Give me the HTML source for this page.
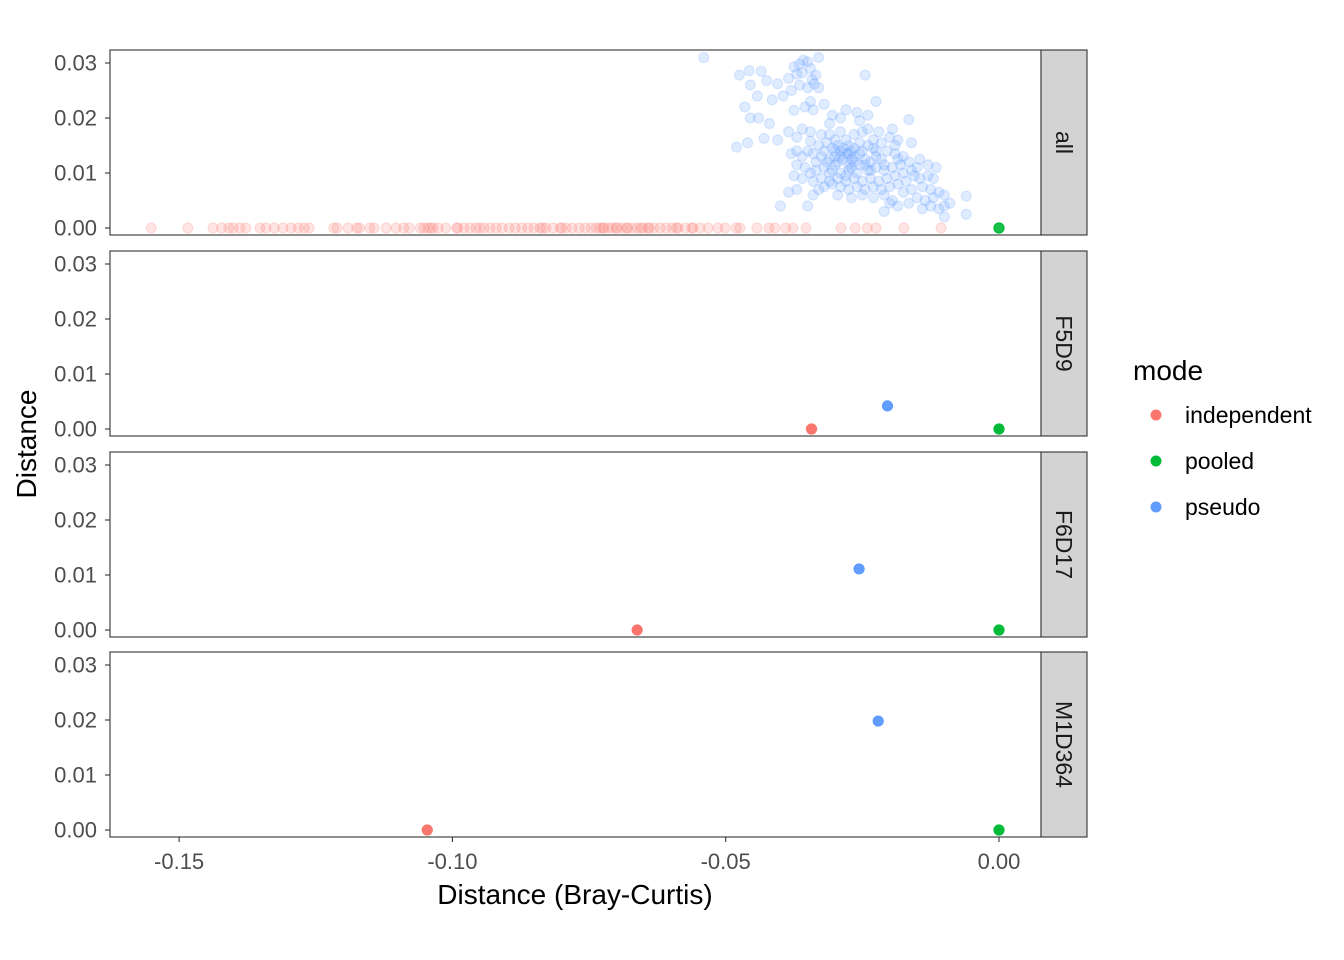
<!DOCTYPE html>
<html><head><meta charset="utf-8"><style>
html,body{margin:0;padding:0;background:#fff;}
svg{display:block;font-family:"Liberation Sans",Arial,sans-serif;}
</style></head><body>
<svg id="chart" width="1344" height="960"></svg>
<script>
const facets = ["all","F5D9","F6D17","M1D364"];
const modes = ["independent","pooled","pseudo"];
const xTicks = [-0.15,-0.10,-0.05,0.00];
const xTickLabels = ["-0.15","-0.10","-0.05","0.00"];
const yTicks = [0,0.01,0.02,0.03];
const yTickLabels = ["0.00","0.01","0.02","0.03"];
const allIndependentX = [-0.1551,-0.1484,-0.1438,-0.1422,-0.1409,-0.1401,-0.1389,-0.1378,-0.1352,-0.1341,-0.1326,-0.1310,-0.1295,-0.1282,-0.1271,-0.1262,-0.1217,-0.1211,-0.1191,-0.1175,-0.1151,-0.1143,-0.1121,-0.1103,-0.1089,-0.1079,-0.1059,-0.1052,-0.1045,-0.1035,-0.1026,-0.1012,-0.0992,-0.0979,-0.0968,-0.0957,-0.0950,-0.0942,-0.0931,-0.0920,-0.0909,-0.0896,-0.0885,-0.0873,-0.0862,-0.0851,-0.0840,-0.0829,-0.0816,-0.0803,-0.0792,-0.0781,-0.0768,-0.0757,-0.0746,-0.0737,-0.0730,-0.0723,-0.0715,-0.0708,-0.0699,-0.0690,-0.0681,-0.0671,-0.0662,-0.0651,-0.0642,-0.0631,-0.0620,-0.0609,-0.0598,-0.0587,-0.0574,-0.0562,-0.0547,-0.0532,-0.0514,-0.0501,-0.0481,-0.0474,-0.0443,-0.0421,-0.0410,-0.0390,-0.0377,-0.0353,-0.0289,-0.0263,-0.0241,-0.0225,-0.0174,-0.0106,-0.0725,-0.0700,-0.0680,-0.0655,-0.0640,-0.0590,-0.0560,-0.0990,-0.1040,-0.1170,-0.0835,-0.0800];
const allPooledX = [0,0,0,0,0,0,0,0,0,0];
const allPseudoX = [-0.054,-0.0475,-0.0457,-0.0435,-0.0425,-0.0405,-0.0385,-0.0375,-0.0365,-0.0358,-0.035,-0.033,-0.0345,-0.036,-0.037,-0.0342,-0.0338,-0.035,-0.0365,-0.038,-0.0395,-0.0455,-0.0442,-0.0465,-0.0415,-0.0335,-0.033,-0.0245,-0.044,-0.0455,-0.042,-0.0375,-0.0345,-0.0355,-0.034,-0.032,-0.0305,-0.031,-0.029,-0.028,-0.026,-0.0255,-0.024,-0.0225,-0.0165,-0.0385,-0.037,-0.036,-0.0345,-0.0325,-0.031,-0.029,-0.028,-0.0265,-0.025,-0.024,-0.023,-0.022,-0.02,-0.0195,-0.043,-0.046,-0.048,-0.0405,-0.03,-0.0295,-0.0275,-0.027,-0.0255,-0.0345,-0.033,-0.0315,-0.0305,-0.029,-0.028,-0.0265,-0.038,-0.037,-0.036,-0.035,-0.034,-0.0335,-0.0325,-0.032,-0.031,-0.03,-0.0295,-0.0285,-0.0275,-0.0265,-0.0255,-0.0245,-0.0235,-0.0225,-0.0215,-0.0205,-0.019,-0.0175,-0.0165,-0.018,-0.0195,-0.021,-0.0225,-0.024,-0.026,-0.0275,-0.029,-0.0305,-0.032,-0.0335,-0.0345,-0.0355,-0.037,-0.0375,-0.036,-0.034,-0.0325,-0.031,-0.0295,-0.028,-0.0265,-0.025,-0.0235,-0.022,-0.0205,-0.019,-0.0175,-0.016,-0.015,-0.0155,-0.0145,-0.013,-0.012,-0.017,-0.0185,-0.02,-0.0215,-0.023,-0.0245,-0.026,-0.0275,-0.029,-0.0305,-0.032,-0.033,-0.037,-0.0385,-0.034,-0.0295,-0.027,-0.025,-0.023,-0.021,-0.0195,-0.0175,-0.016,-0.014,-0.0125,-0.011,-0.01,-0.012,-0.0135,-0.015,-0.0165,-0.0185,-0.02,-0.0125,-0.011,-0.01,-0.009,-0.006,-0.006,-0.01,-0.04,-0.035,-0.021,-0.014,-0.025,-0.024,-0.023,-0.0215,-0.021,-0.0185,-0.0285,-0.0275,-0.0265,-0.0255,-0.0245,-0.0235,-0.027,-0.028,-0.03,-0.031,-0.0315,-0.029,-0.03,-0.027,-0.0225,-0.0185,-0.019,-0.016,-0.0145,-0.013,-0.0115];
const allPseudoY = [0.031,0.0278,0.0286,0.0285,0.0268,0.0262,0.0272,0.0293,0.0298,0.0305,0.0302,0.031,0.029,0.0282,0.028,0.027,0.0262,0.0255,0.026,0.025,0.024,0.026,0.024,0.022,0.0233,0.0278,0.0255,0.0278,0.02,0.02,0.019,0.0214,0.023,0.022,0.0215,0.0225,0.0205,0.019,0.02,0.0215,0.021,0.0195,0.0205,0.023,0.0197,0.0175,0.0165,0.018,0.0175,0.017,0.017,0.0175,0.016,0.017,0.0175,0.018,0.016,0.0175,0.0165,0.018,0.0163,0.0155,0.0147,0.016,0.016,0.015,0.015,0.014,0.0155,0.0158,0.015,0.0155,0.0145,0.014,0.0135,0.013,0.0135,0.014,0.013,0.014,0.0135,0.012,0.013,0.014,0.0125,0.013,0.012,0.0125,0.0115,0.012,0.0115,0.0125,0.012,0.013,0.0125,0.014,0.0135,0.013,0.012,0.0115,0.011,0.0105,0.011,0.0105,0.01,0.0105,0.01,0.0105,0.011,0.0105,0.01,0.011,0.0115,0.0095,0.009,0.0085,0.009,0.0085,0.009,0.0085,0.009,0.0085,0.009,0.0085,0.009,0.0095,0.01,0.0105,0.011,0.0095,0.009,0.0095,0.009,0.0085,0.008,0.0075,0.007,0.0075,0.007,0.0075,0.007,0.0075,0.008,0.0075,0.007,0.007,0.0065,0.006,0.006,0.0055,0.006,0.0055,0.006,0.005,0.0065,0.007,0.0075,0.007,0.0065,0.006,0.0055,0.005,0.0055,0.0045,0.004,0.0045,0.004,0.0035,0.004,0.0045,0.0058,0.0025,0.002,0.004,0.004,0.003,0.0035,0.014,0.015,0.0145,0.0155,0.0115,0.0125,0.0145,0.0135,0.0145,0.0135,0.0115,0.0105,0.011,0.0095,0.0115,0.01,0.012,0.013,0.014,0.0125,0.014,0.016,0.015,0.0155,0.0125,0.0115,0.011];
const facetIndependentX = [-0.0343,-0.0662,-0.1046];
const facetPseudoX = [-0.0204,-0.0256,-0.0221];
const facetPseudoY = [0.0042,0.0111,0.0198];
const facetPooledX = [0,0,0];

const NS="http://www.w3.org/2000/svg";
const svg=document.getElementById('chart');
const colors={independent:"#F8766D",pooled:"#00BA38",pseudo:"#619CFF"};
const panelL=110, panelR=1041, panelTops=[50,251,452,652], panelH=185;
function xS(v){return 999+v*5466;}
function yS(p,v){return panelTops[p]+178-v*5500;}
function mk(tag,attrs){const e=document.createElementNS(NS,tag);for(const k in attrs)e.setAttribute(k,attrs[k]);svg.appendChild(e);return e;}
function txt(s,attrs){const e=mk('text',attrs);e.textContent=s;return e;}

facets.forEach((f,p)=>{
  const t=panelTops[p];
  const bg=mk('rect',{x:panelL,y:t,width:panelR-panelL,height:panelH,fill:'#fff',stroke:'#333','stroke-width':1.1});
  
  
  const st=mk('rect',{x:panelR,y:t,width:46,height:panelH,fill:'#d3d3d3',stroke:'#333','stroke-width':1.1});
  
  
  const cx=panelR+23, cy=t+panelH/2;
  const sl=txt(f,{x:cx,y:cy,'font-size':23,fill:'#1a1a1a','text-anchor':'middle','dominant-baseline':'central',transform:`rotate(90 ${cx} ${cy})`});
  
  
  yTicks.forEach((v,i)=>{
    const y=yS(p,v);
    const tk=mk('line',{x1:panelL-5,x2:panelL,y1:y,y2:y,stroke:'#333','stroke-width':1.1});
    
    
    const tl=txt(yTickLabels[i],{x:panelL-13,y:y,'font-size':22,fill:'#4d4d4d','text-anchor':'end','dominant-baseline':'central'});
    
    
  });
});
const bottom=panelTops[3]+panelH;
xTicks.forEach((v,i)=>{
  const x=xS(v);
  const tk=mk('line',{x1:x,x2:x,y1:bottom,y2:bottom+5,stroke:'#333','stroke-width':1.1});
  
  
  const tl=txt(xTickLabels[i],{x:x,y:bottom+32,'font-size':22,fill:'#4d4d4d','text-anchor':'middle'});
  
  
});
function pt(x,y,col,op,name){
  const c=mk('circle',{cx:x,cy:y,r:5,fill:col,'fill-opacity':op,stroke:col,'stroke-opacity':op,'stroke-width':1.2});
  
  
}
allIndependentX.forEach(v=>pt(xS(v),yS(0,0),colors.independent,0.2,'point-independent'));
allPseudoX.forEach((v,i)=>pt(xS(v),yS(0,allPseudoY[i]),colors.pseudo,0.2,'point-pseudo'));
allPooledX.forEach(v=>pt(xS(v),yS(0,0),colors.pooled,0.2,'point-pooled'));
for(let i=0;i<3;i++){
  pt(xS(facetIndependentX[i]),yS(i+1,0),colors.independent,1,'point-independent');
  pt(xS(facetPooledX[i]),yS(i+1,0),colors.pooled,1,'point-pooled');
  pt(xS(facetPseudoX[i]),yS(i+1,facetPseudoY[i]),colors.pseudo,1,'point-pseudo');
}
const xt=txt('Distance (Bray-Curtis)',{x:575,y:904,'font-size':28,fill:'#000','text-anchor':'middle'});


const yt=txt('Distance',{x:36,y:444,'font-size':28,fill:'#000','text-anchor':'middle',transform:'rotate(-90 36 444)'});


const lt=txt('mode',{x:1133,y:380,'font-size':28,fill:'#000'});


modes.forEach((m,i)=>{
  const y=415+i*46;
  const c=mk('circle',{cx:1156,cy:y,r:5.5,fill:colors[m]});
  
  
  const l=txt(m,{x:1185,y:y,'font-size':23,fill:'#000','dominant-baseline':'central'});
  
  
});
</script>
</body></html>
